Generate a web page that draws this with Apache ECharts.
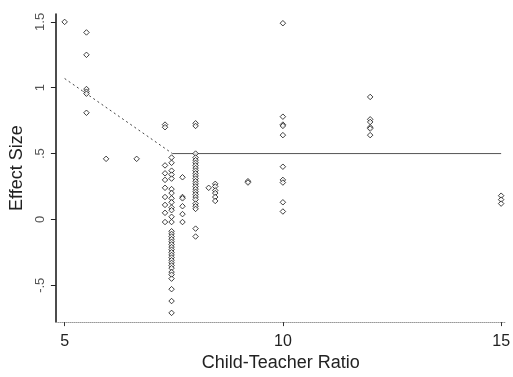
<!DOCTYPE html>
<html>
<head>
<meta charset="utf-8">
<script src="https://cdn.jsdelivr.net/npm/echarts@6/dist/echarts.min.js"></script>
<style>
html,body{margin:0;padding:0;background:#fff;}
#chart{width:513px;height:377px;}
</style>
</head>
<body>
<div id="chart"></div>
<script>
// Child-teacher ratio columns and the effect sizes observed at each
const ratios = [5, 5.5, 5.95, 6.65, 7.3, 7.45, 7.7, 8.0, 8.3, 8.45, 9.2, 10, 12, 15];
const effects = [
  [1.5],
  [1.42, 1.25, 0.99, 0.97, 0.955, 0.81],
  [0.46],
  [0.46],
  [0.72, 0.70, 0.41, 0.35, 0.30, 0.24, 0.17, 0.11, 0.05, -0.02],
  [0.47, 0.43, 0.37, 0.34, 0.31, 0.23, 0.20, 0.16, 0.13, 0.09, 0.07, 0.02, -0.02,
   -0.09, -0.11, -0.13, -0.15, -0.17, -0.19, -0.21, -0.23, -0.25, -0.27, -0.29,
   -0.31, -0.33, -0.35, -0.37, -0.40, -0.42, -0.45, -0.53, -0.62, -0.71],
  [0.32, 0.17, 0.16, 0.10, 0.04, -0.02],
  [0.73, 0.71, 0.50, 0.47, 0.45, 0.43, 0.41, 0.39, 0.37, 0.35, 0.33, 0.31, 0.29, 0.27,
   0.25, 0.23, 0.21, 0.19, 0.17, 0.15, 0.12, 0.10, 0.08, -0.07, -0.13],
  [0.24],
  [0.27, 0.25, 0.22, 0.20, 0.17, 0.14],
  [0.29, 0.28],
  [1.49, 0.78, 0.72, 0.71, 0.64, 0.40, 0.30, 0.28, 0.13, 0.06],
  [0.93, 0.76, 0.74, 0.70, 0.69, 0.64],
  [0.18, 0.15, 0.12]
];
// Fitted piecewise line (knot)
const fitX = [5, 7.47, 15];
const fitY = [1.07, 0.5, 0.5];
// Tick labels
const xTicks = [5, 10, 15];
const xTickLabels = ['5', '10', '15'];
const yTicks = [-0.5, 0, 0.5, 1, 1.5];
const yTickLabels = ['-.5', '0', '.5', '1', '1.5'];

const points = [];
ratios.forEach((r, i) => effects[i].forEach(v => points.push([r, v])));

const chart = echarts.init(document.getElementById('chart'), null, {renderer: 'canvas'});
const font = 'Liberation Sans, Arial, Helvetica, sans-serif';
chart.setOption({
  animation: false,
  backgroundColor: '#fff',
  grid: {left: 53, right: 3, top: 14, bottom: 43, containLabel: false},
  xAxis: {
    type: 'value', min: 4.8, max: 15.1,
    name: 'Child-Teacher Ratio', nameLocation: 'middle', nameGap: 24,
    nameTextStyle: {fontFamily: font, fontSize: 18, color: '#222'},
    splitLine: {show: false},
    axisLine: {show: true, onZero: false, lineStyle: {color: '#999', width: 1, type: 'dotted'}},
    axisTick: {show: true, length: 4, customValues: xTicks, lineStyle: {color: '#333'}},
    axisLabel: {customValues: xTicks, margin: 11, fontFamily: font, fontSize: 16, color: '#222',
      formatter: v => xTickLabels[xTicks.indexOf(v)]}
  },
  yAxis: {
    type: 'value', min: -0.78, max: 1.56,
    name: 'Effect Size', nameLocation: 'middle', nameGap: 25, nameRotate: 90,
    nameTextStyle: {fontFamily: font, fontSize: 18, color: '#222'},
    splitLine: {show: false},
    axisLine: {show: true, onZero: false, lineStyle: {color: '#111', width: 1.5}},
    axisTick: {show: true, length: 5, customValues: yTicks, lineStyle: {color: '#222'}},
    axisLabel: {customValues: yTicks, rotate: 90, margin: 9, fontFamily: font, fontSize: 13, color: '#555',
      formatter: v => yTickLabels[yTicks.map(t => t.toFixed(2)).indexOf(v.toFixed(2))]}
  },
  series: [
    {
      type: 'line', data: [[fitX[0], fitY[0]], [fitX[1], fitY[1]]],
      symbol: 'none', lineStyle: {color: '#444', width: 1, type: [2, 3]}, z: 1
    },
    {
      type: 'line', data: [[fitX[1], fitY[1]], [fitX[2], fitY[2]]],
      symbol: 'none', lineStyle: {color: '#555', width: 1}, z: 1
    },
    {
      type: 'scatter', data: points, symbol: 'diamond', symbolSize: 5.5,
      itemStyle: {color: '#fff', borderColor: '#111', borderWidth: 1}, z: 2
    }
  ]
});
</script>
</body>
</html>
